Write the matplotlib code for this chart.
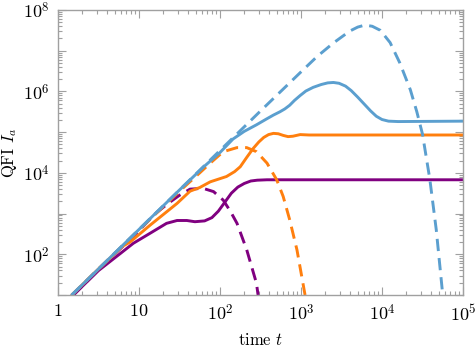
import numpy as np
import matplotlib
matplotlib.use("Agg")
import matplotlib.pyplot as plt
from matplotlib.ticker import LogLocator, FuncFormatter, NullFormatter

plt.rcParams["font.family"] = "serif"
plt.rcParams["font.serif"] = ["cmr10", "DejaVu Serif"]
plt.rcParams["mathtext.fontset"] = "cm"
plt.rcParams["axes.unicode_minus"] = False
plt.rcParams["axes.formatter.use_mathtext"] = True

# curves: (log10 t, log10 I)
blue_dash_logt = [0.17, 0.5, 1.0, 1.5, 2.0, 2.5, 3.0, 3.2, 3.4, 3.6, 3.7, 3.79, 3.88,
                  3.98, 4.1, 4.22, 4.35, 4.43, 4.5, 4.59, 4.67, 4.75]
blue_dash_logI = [1.0, 1.64, 2.61, 3.58, 4.55, 5.52, 6.48, 6.86, 7.19, 7.48, 7.58, 7.63, 7.6,
                  7.5, 7.2, 6.7, 6.04, 5.5, 4.95, 3.85, 2.6, 1.0]

blue_solid_logt = [0.17, 0.5, 1.0, 1.5, 1.8, 2.0, 2.16, 2.3, 2.45, 2.58, 2.66, 2.74, 2.8,
                   2.86, 2.92, 2.99, 3.06, 3.15, 3.25, 3.33, 3.4, 3.47, 3.55, 3.62, 3.7,
                   3.78, 3.86, 3.93, 4.0, 4.08, 4.2, 5.0]
blue_solid_logI = [1.0, 1.64, 2.61, 3.58, 4.15, 4.5, 4.83, 5.02, 5.18, 5.33, 5.42, 5.5, 5.57,
                   5.66, 5.78, 5.9, 6.01, 6.1, 6.17, 6.21, 6.22, 6.2, 6.13, 6.02, 5.86,
                   5.69, 5.52, 5.39, 5.31, 5.27, 5.26, 5.27]

orange_dash_logt = [0.17, 0.5, 1.0, 1.5, 1.75, 1.88, 2.04, 2.21, 2.33, 2.45, 2.58, 2.70,
                    2.78, 2.86, 2.95, 3.05]
orange_dash_logI = [1.0, 1.64, 2.6, 3.55, 4.0, 4.24, 4.52, 4.62, 4.62, 4.52, 4.24, 3.83,
                    3.42, 2.85, 2.11, 1.0]

orange_solid_logt = [0.17, 0.5, 0.8, 0.89, 1.14, 1.47, 1.63, 1.75, 1.88, 2.08, 2.18, 2.25,
                     2.33, 2.41, 2.48, 2.54, 2.6, 2.66, 2.72, 2.78, 2.84, 2.9, 2.99, 3.1,
                     3.2, 5.0]
orange_solid_logI = [1.0, 1.64, 2.2, 2.3, 2.72, 3.25, 3.55, 3.64, 3.78, 3.91, 4.03, 4.15,
                     4.38, 4.6, 4.76, 4.87, 4.94, 4.97, 4.96, 4.92, 4.89, 4.9, 4.94, 4.93,
                     4.93, 4.93]

purple_dash_logt = [0.19, 0.5, 1.0, 1.19, 1.36, 1.5, 1.63, 1.79, 1.92, 2.04, 2.13, 2.21,
                    2.33, 2.45, 2.47]
purple_dash_logI = [1.0, 1.62, 2.58, 2.98, 3.25, 3.45, 3.6, 3.62, 3.54, 3.33, 3.05, 2.76,
                    2.11, 1.29, 1.0]

purple_solid_logt = [0.19, 0.5, 0.77, 0.93, 1.14, 1.34, 1.47, 1.59, 1.69, 1.81, 1.9, 1.98,
                     2.06, 2.14, 2.22, 2.3, 2.38, 2.46, 2.58, 5.0]
purple_solid_logI = [1.0, 1.6, 2.02, 2.27, 2.52, 2.76, 2.83, 2.83, 2.8, 2.82, 2.9, 3.06,
                     3.28, 3.5, 3.65, 3.74, 3.8, 3.82, 3.83, 3.83]

BLUE = "#5b9fcf"
ORANGE = "#ff7f0e"
PURPLE = "#800080"

fig = plt.figure(figsize=(4.77, 3.48), dpi=100)
ax = fig.add_axes([58 / 477, 1 - 295 / 348, (463 - 58) / 477, (295 - 10) / 348])

lw = 2.1
dash = (0, (4.2, 2.4))


def draw(lt, li, color, style):
    ax.plot(10 ** np.array(lt), 10 ** np.array(li), color=color, lw=lw,
            linestyle=style, solid_capstyle="round", solid_joinstyle="round")


draw(purple_solid_logt, purple_solid_logI, PURPLE, "-")
draw(purple_dash_logt, purple_dash_logI, PURPLE, dash)
draw(orange_solid_logt, orange_solid_logI, ORANGE, "-")
draw(orange_dash_logt, orange_dash_logI, ORANGE, dash)
draw(blue_solid_logt, blue_solid_logI, BLUE, "-")
draw(blue_dash_logt, blue_dash_logI, BLUE, dash)

ax.set_xscale("log")
ax.set_yscale("log")
ax.set_xlim(1, 1e5)
ax.set_ylim(10, 1e8)

ax.xaxis.set_major_locator(LogLocator(base=10, numticks=20))
ax.yaxis.set_major_locator(LogLocator(base=10, numticks=20))
ax.xaxis.set_minor_locator(LogLocator(base=10, subs=np.arange(2, 10), numticks=50))
ax.yaxis.set_minor_locator(LogLocator(base=10, subs=np.arange(2, 10), numticks=50))
ax.xaxis.set_minor_formatter(NullFormatter())
ax.yaxis.set_minor_formatter(NullFormatter())


def xfmt(v, pos):
    e = int(round(np.log10(v)))
    if e == 0:
        return r"$1$"
    if e == 1:
        return r"$10$"
    return r"$10^{%d}$" % e


def yfmt(v, pos):
    e = int(round(np.log10(v)))
    if e % 2:
        return ""
    return r"$10^{%d}$" % e


ax.xaxis.set_major_formatter(FuncFormatter(xfmt))
ax.yaxis.set_major_formatter(FuncFormatter(yfmt))

grey = "#a0a0a0"
for s in ax.spines.values():
    s.set_color(grey)
    s.set_linewidth(1.0)
ax.tick_params(which="both", direction="in", top=True, right=True, color=grey,
               labelsize=13, width=0.8)
ax.tick_params(which="major", length=6, pad=6)
ax.tick_params(which="minor", length=3)

ax.set_xlabel(r"time $t$", fontsize=12, labelpad=5.5)
ax.set_ylabel(r"QFI $I_a$", fontsize=12, labelpad=3)

fig.savefig("out.png", dpi=100)
